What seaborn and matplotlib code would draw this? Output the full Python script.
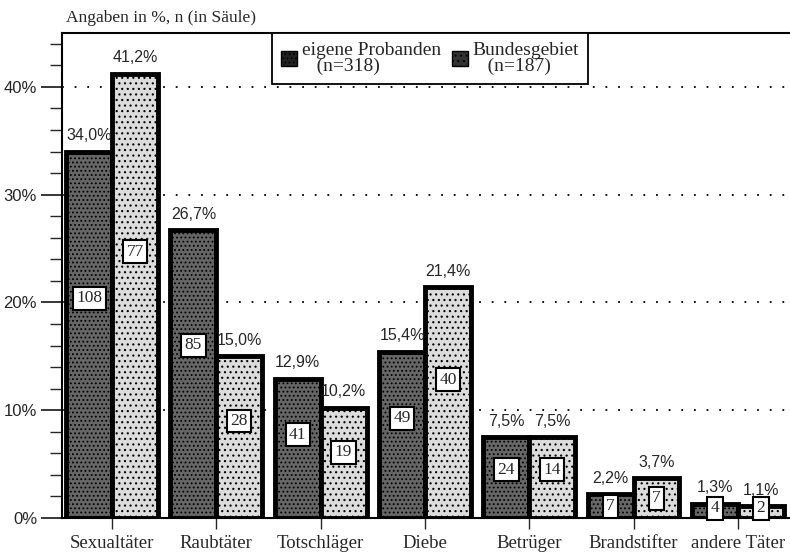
import matplotlib.pyplot as plt
import pandas as pd
import seaborn as sns
from matplotlib.patches import Patch

# data
taeter = ["Sexualtäter", "Raubtäter", "Totschläger", "Diebe",
          "Betrüger", "Brandstifter", "andere Täter"]
eigene_pct = [34.0, 26.7, 12.9, 15.4, 7.5, 2.2, 1.3]
bund_pct = [41.2, 15.0, 10.2, 21.4, 7.5, 3.7, 1.1]
eigene_n = [108, 85, 41, 49, 24, 7, 4]
bund_n = [77, 28, 19, 40, 14, 7, 2]
gruppen = ["eigene Probanden", "Bundesgebiet"]
gruppen_n = [318, 187]

DARK = "#666666"
LIGHT = "#dcdcdc"
SERIF = "Liberation Serif"
SANS = "Liberation Sans"

df = pd.DataFrame({
    "Täter": taeter * 2,
    "Anteil": eigene_pct + bund_pct,
    "n": eigene_n + bund_n,
    "Gruppe": [gruppen[0]] * len(taeter) + [gruppen[1]] * len(taeter),
})

sns.set_style("white")
plt.rcParams["hatch.linewidth"] = 0.8

fig = plt.figure(figsize=(7.9, 5.56), dpi=100)
ax = fig.add_axes([0.0785, 0.0683, 0.9215, 0.8723])

sns.barplot(
    data=df, x="Täter", y="Anteil", hue="Gruppe", hue_order=gruppen,
    palette=[DARK, LIGHT], saturation=1, width=0.88, gap=0,
    edgecolor="black", linewidth=3.5, legend=False, ax=ax, zorder=2,
)

hatches = ["....", "..."]
counts = [eigene_n, bund_n]
pcts = [eigene_pct, bund_pct]
for i, cont in enumerate(ax.containers):
    for j, bar in enumerate(cont):
        bar.set_hatch(hatches[i])
        x = bar.get_x() + bar.get_width() / 2
        v = pcts[i][j]
        ax.text(x, v + 0.8, f"{v:.1f}%".replace(".", ","), ha="center",
                va="bottom", fontsize=11.5, family=SANS, zorder=4)
        # count boxes sit inside the bar, small bars get them near the base
        y_n = v * 0.6 if v > 5 else max(0.9, v / 2)
        ax.text(x, y_n, str(counts[i][j]), ha="center", va="center",
                fontsize=12.5, family=SERIF, zorder=5,
                bbox=dict(boxstyle="square,pad=0.2", fc="white",
                          ec="black", lw=1.5))

# axes
ax.set_ylim(0, 45)
ax.set_xlim(-0.48, 6.5)
ax.set_yticks([0, 10, 20, 30, 40])
ax.set_yticklabels(["0%", "10%", "20%", "30%", "40%"], family=SANS, fontsize=12)
ax.set_yticks(range(0, 46, 2), minor=True)
ax.tick_params(axis="y", which="both", left=True)
ax.tick_params(axis="y", which="major", direction="out", length=15, width=1.3, pad=3)
ax.tick_params(axis="y", which="minor", direction="out", length=9, width=1.0)
ax.tick_params(axis="x", bottom=True, direction="out", length=8, width=1.0, pad=4)
ax.set_xticks(range(len(taeter)))
ax.set_xticklabels(taeter, family=SERIF, fontsize=13.5)
ax.set_xlabel("")
ax.set_ylabel("")

for y in [10, 20, 30, 40]:
    ax.axhline(y, color="black", lw=1.3, ls=(0, (1, 6)), zorder=1)

for side in ["left", "top", "bottom"]:
    ax.spines[side].set_color("black")
    ax.spines[side].set_linewidth(1.5)
ax.spines["right"].set_visible(False)

ax.text(0.005, 1.015, "Angaben in %, n (in Säule)", transform=ax.transAxes,
        ha="left", va="bottom", family=SERIF, fontsize=12.5)

handles = [Patch(facecolor="#222222", edgecolor="black", hatch="...."),
           Patch(facecolor="#333333", edgecolor="black", hatch="...")]
labels = [f"{g}\n   (n={n})" for g, n in zip(gruppen, gruppen_n)]
leg = ax.legend(handles, labels, ncol=2, loc="upper left",
                bbox_to_anchor=(0.289, 1.0), frameon=True, fancybox=False,
                edgecolor="black", framealpha=1, borderpad=0.45,
                handlelength=0.8, handleheight=0.8, handletextpad=0.25,
                columnspacing=0.6, borderaxespad=0,
                prop={"family": SERIF, "size": 14})
leg.get_frame().set_linewidth(1.3)
for t in leg.get_texts():
    t.set_linespacing(0.95)

fig.savefig("out.png", dpi=100)
